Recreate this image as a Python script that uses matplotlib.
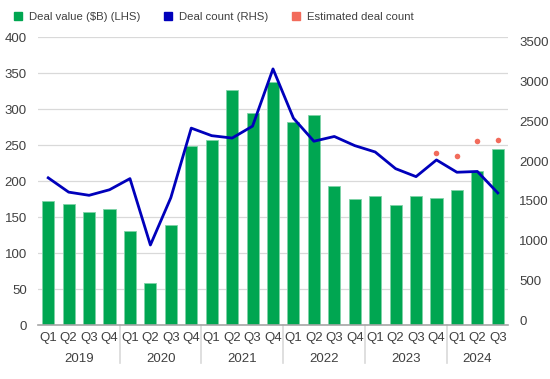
import numpy as np
import matplotlib.pyplot as plt
from matplotlib.patches import Patch

years = ["2019", "2020", "2021", "2022", "2023", "2024"]
quarters = ["Q1", "Q2", "Q3", "Q4"] * 5 + ["Q1", "Q2", "Q3"]

deal_value = [172, 168, 157, 161,
              131, 59, 139, 249,
              257, 326, 294, 337,
              282, 291, 193, 175,
              179, 166, 179, 177,
              188, 214, 245]

deal_count = [1790, 1610, 1570, 1640,
              1780, 945, 1540, 2415,
              2320, 2290, 2440, 3160,
              2540, 2250, 2310, 2195,
              2115, 1905, 1805, 2015,
              1860, 1870, 1600]

est_idx = [19, 20, 21, 22]
est_count = [2105, 2065, 2250, 2260]

plt.rcParams["font.family"] = ["Liberation Sans", "DejaVu Sans"]
txt = "#404040"
green = "#00A651"
blue = "#0000BB"
red = "#F26B5B"

fig = plt.figure(figsize=(5.5, 3.79), dpi=100)
ax = fig.add_axes([38 / 550, 1 - 325 / 379, 470 / 550, 288 / 379])
ax2 = ax.twinx()

x = np.arange(len(deal_value))
ax.bar(x, deal_value, width=0.59, color=green, edgecolor="#7fd3a8",
       linewidth=0.6, zorder=2)
ax.set_xlim(-0.5, len(x) - 0.5)
ax.set_ylim(0, 400)
ax.set_yticks(range(0, 401, 50))
ax.grid(axis="y", color="#d9d9d9", linewidth=0.9, zorder=0)
ax.set_axisbelow(True)

ax2.plot(x, deal_count, color=blue, linewidth=2.0, zorder=3)
ax2.scatter(est_idx, est_count, s=16, color=red, zorder=4, linewidths=0)
ax2.set_ylim(-61, 3561)
ax2.set_yticks(range(0, 3501, 500))

for a in (ax, ax2):
    for s in a.spines.values():
        s.set_visible(False)
    a.tick_params(length=0, labelsize=9.5, colors=txt)
ax.tick_params(axis="y", pad=8)
ax2.tick_params(axis="y", pad=8)
ax.spines["bottom"].set_visible(True)
ax.spines["bottom"].set_color("#a6a6a6")
ax.spines["bottom"].set_linewidth(1.2)

ax.set_xticks(x)
ax.set_xticklabels(quarters, fontsize=9.5)
ax.tick_params(axis="x", pad=5)

# year labels and separators
starts = [0, 4, 8, 12, 16, 20]
ends = [4, 8, 12, 16, 20, 23]
for yr, s, e in zip(years, starts, ends):
    ax.text((s + e - 1) / 2, -0.118, yr, transform=ax.get_xaxis_transform(),
            ha="center", va="center", fontsize=9.5, color=txt)
for b in starts[1:]:
    ax.plot([b - 0.5, b - 0.5], [0, -0.132], transform=ax.get_xaxis_transform(),
            color="#d9d9d9", linewidth=1.2, clip_on=False)

handles = [
    Patch(color=green, label="Deal value ($B) (LHS)"),
    Patch(color=blue, label="Deal count (RHS)"),
    Patch(color=red, label="Estimated deal count"),
]
fig.legend(handles=handles, loc="upper left", bbox_to_anchor=(0.007, 0.995),
           ncol=3, frameon=False, handlelength=0.7,
           handleheight=0.7, handletextpad=0.6, columnspacing=2.1,
           labelcolor=txt, fontsize=8.2)

fig.savefig("out.png", dpi=100)
